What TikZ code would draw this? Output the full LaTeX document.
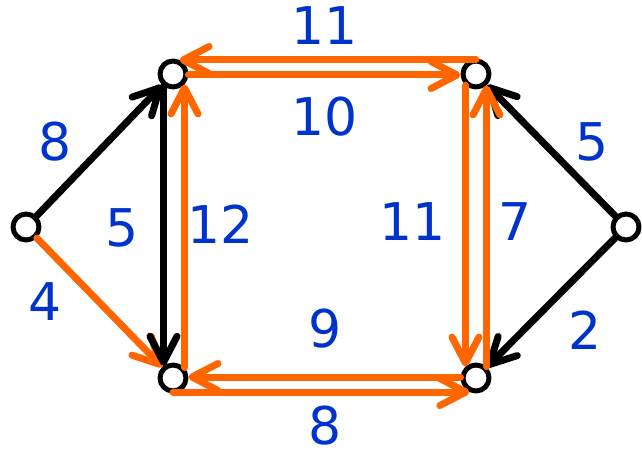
\documentclass[tikz,border=0pt]{standalone}
\usepackage{fontspec}
\setsansfont{DejaVu Sans}
\usepackage{tikz}
\usetikzlibrary{arrows.meta}
\definecolor{floworange}{HTML}{FF6600}
\definecolor{capblue}{HTML}{0033CC}
\tikzset{
  >={Straight Barb[length=26pt,width=27pt,round]},
  every picture/.style={line cap=round, line join=round},
  vtx/.style={circle, draw=black, fill=white, line width=5pt, minimum size=26pt, inner sep=0pt},
  graphedge/.style={black, line width=7pt, ->},
  flowedge/.style={floworange, line width=7pt, ->},
  lbl/.style={font=\sffamily\fontsize{52}{60}\selectfont, text=capblue, inner sep=0pt},
}
\begin{document}
\begin{tikzpicture}[x=1pt, y=1pt]
\useasboundingbox (0,0) rectangle (642,450);
% vertices
\node[vtx] (s) at (26,223) {};
\node[vtx] (a) at (173,376) {};
\node[vtx] (b) at (476,376) {};
\node[vtx] (c) at (173,72) {};
\node[vtx] (d) at (476,72) {};
\node[vtx] (t) at (626,223) {};
% outer edges
\draw[graphedge] (s) -- (a);
\draw[flowedge] (s) -- (c);
\draw[graphedge] (t) -- (b);
\draw[graphedge] (t) -- (d);
% top pair
\draw[flowedge] ([yshift=14pt]b.center) -- ([shift={(6.6pt,14pt)}]a.center);
\draw[flowedge] ([yshift=-1pt]a.east) -- ([yshift=-1pt]b.west);
% left pair
\draw[graphedge] ([shift={(-9.5pt,-12.2pt)}]a.center) -- ([shift={(-9.5pt,12.2pt)}]c.center);
\draw[flowedge] ([shift={(11.5pt,10.4pt)}]c.center) -- ([shift={(11.5pt,-10.4pt)}]a.center);
% right pair
\draw[flowedge] ([shift={(-10.5pt,-11.4pt)}]b.center) -- ([shift={(-10.5pt,11.4pt)}]d.center);
\draw[flowedge] ([shift={(10.5pt,11.4pt)}]d.center) -- ([shift={(10.5pt,-11.4pt)}]b.center);
% bottom pair
\draw[flowedge] ([yshift=1pt]d.west) -- ([yshift=1pt]c.east);
\draw[flowedge] ([yshift=-14pt]c.center) -- ([shift={(-6.6pt,-14pt)}]d.center);
% weights
\node[lbl] (wsa) at (55,308) {8};
\node[lbl] (wsc) at (45,148) {4};
\node[lbl] (wac) at (122,222) {5};
\node[lbl] (wca) at (221,226) {12};
\node[lbl] (wba) at (325,424) {11};
\node[lbl] (wab) at (325,333) {10};
\node[lbl] (wbd) at (413,228) {11};
\node[lbl] (wdb) at (515,228) {7};
\node[lbl] (wdc) at (325,121) {9};
\node[lbl] (wcd) at (325,24) {8};
\node[lbl] (wtb) at (592,308) {5};
\node[lbl] (wtd) at (585,120) {2};
\end{tikzpicture}
\end{document}
